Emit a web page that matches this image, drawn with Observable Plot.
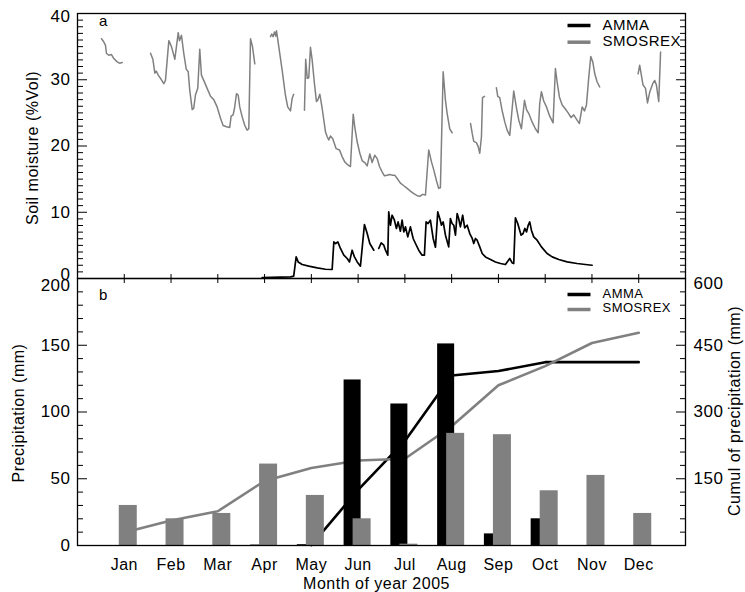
<!DOCTYPE html>
<html><head><meta charset="utf-8">
<script src="https://cdn.jsdelivr.net/npm/d3@7"></script>
<script src="https://cdn.jsdelivr.net/npm/@observablehq/plot@0.6"></script>
<style>
body{margin:0;background:#fff;}
#chart{position:relative;width:745px;height:592px;overflow:hidden;background:#fff;}
#chart svg{position:absolute;left:0;}
#chart text{letter-spacing:0.5px;}
</style></head><body><div id="chart"></div>
<script>
// ---------- Panel b: monthly data ----------
const months = ["Jan","Feb","Mar","Apr","May","Jun","Jul","Aug","Sep","Oct","Nov","Dec"];
const monthIndex = [1,2,3,4,5,6,7,8,9,10,11,12];
const ammaMonthly    = [0, 0, 0, 0.3, 0.6, 124, 106, 151, 8.7, 20, 0, 0];
const smosrexMonthly = [30, 20, 24, 61, 37.5, 20, 1, 84, 83, 41, 52.5, 24];
const ammaCumul    = [null, null, null, null, 1, 125, 235, 382, 392, 412, 412, 412];
const smosrexCumul = [29, 56, 77, 145, 174, 191, 195, 268, 360, 403, 455, 478];
const precipMajor = [0, 50, 100, 150, 200];
const precipMinor = [10,20,30,40,60,70,80,90,110,120,130,140,160,170,180,190];
const cumulFactor = 3; // 600 mm cumul <-> 200 mm monthly

// ---------- Panel a: daily soil moisture (day of year, %Vol); null = gap ----------
const smosrexDay = [1.4,2.9,4.0,4.6,6.1,7.9,9.4,11.6,13.1,14.9,null,
33.3,34.8,36.1,37.0,38.3,39.8,41.9,43.0,45.2,46.9,49.1,51.3,52.1,53.4,54.9,56.5,57.8,58.8,60.4,61.4,62.5,64.0,65.3,66.4,67.9,70.1,72.3,74.4,76.6,78.8,80.5,82.7,84.8,85.7,87.0,87.9,89.2,90.3,91.3,92.9,94.6,96.1,97.2,98.3,99.6,101.1,null,
111.3,112.1,113.0,113.9,114.7,115.2,116.7,118.9,121.0,122.5,124.3,125.4,126.4,null,
133.4,134.2,135.2,136.2,137.3,138.4,139.9,141.2,142.0,143.4,144.9,147.1,148.2,149.2,150.3,151.8,154.0,156.2,157.9,159.6,161.8,163.3,165.1,166.1,167.7,169.4,170.9,172.6,174.2,175.9,177.4,179.1,180.7,182.2,183.9,185.4,187.2,188.9,190.4,192.1,193.7,195.8,198.0,200.2,202.3,204.5,206.7,208.4,210.3,212.1,214.2,216.0,217.5,219.2,220.7,221.8,223.6,225.1,226.2,227.9,229.4,null,
241.4,242.5,243.5,245.2,246.4,247.4,248.5,249.2,250.5,null,
258.2,259.1,260.4,261.9,263.7,265.2,266.9,269.5,271.3,272.8,274.5,276.5,277.8,279.3,281.5,283.6,285.4,286.4,287.5,289.0,290.8,292.9,295.1,296.6,297.7,299.2,301.0,302.7,304.9,306.8,308.5,310.7,312.2,314.0,315.5,316.8,318.3,319.6,320.9,322.2,323.7,325.4,null,
350.4,351.4,352.5,353.6,355.2,356.5,358.0,359.9,361.2,362.3,363.8,365.0];
const smosrexSM = [36.2,35.7,35.2,34.0,33.7,33.8,33.2,32.7,32.5,32.6,null,
34.0,33.1,31.0,31.3,30.7,30.2,29.4,29.9,35.9,35.0,33.1,37.1,35.9,36.7,34.0,31.6,31.2,28.4,25.5,25.7,27.7,28.7,34.6,30.7,29.9,28.7,27.5,27.0,25.9,24.2,23.1,22.9,22.8,24.5,24.7,25.7,27.9,27.7,25.9,24.4,23.1,22.4,22.6,36.2,35.0,32.4,null,
36.5,36.9,36.5,37.2,36.6,37.4,35.0,31.4,27.7,25.9,25.3,27.2,27.8,null,
25.4,33.1,30.2,30.3,34.9,33.0,29.4,26.7,26.9,27.8,25.7,22.1,21.4,20.9,21.5,21.1,19.6,19.4,18.4,17.6,17.1,16.9,24.8,22.9,20.6,18.9,17.8,17.5,17.0,18.8,17.5,18.6,18.1,16.9,16.1,15.5,15.6,15.7,15.6,15.6,15.1,14.4,14.0,13.6,13.2,12.8,12.5,12.4,12.7,12.6,19.4,17.6,16.4,14.8,13.6,13.7,31.2,26.9,24.9,22.6,22.0,null,
23.4,21.9,20.7,20.5,19.9,18.9,21.4,27.3,27.5,null,
28.8,27.5,27.3,25.4,23.6,22.4,21.6,28.3,25.7,23.9,22.6,26.9,25.5,24.9,23.6,22.6,22.0,26.4,28.2,26.8,25.9,24.5,23.5,31.7,29.7,27.4,26.2,25.7,25.0,24.3,24.7,23.9,23.4,25.9,25.3,26.2,30.4,33.5,32.7,30.9,29.7,28.9,null,
30.9,32.2,30.7,29.2,28.7,26.5,28.2,29.4,29.9,29.2,26.7,34.2];

const ammaDay = [105.9,117.8,124.3,126.4,128.0,129.3,131.9,136.2,141.7,147.1,151.4,152.5,153.6,155.1,156.8,159.0,161.2,162.7,164.4,165.9,167.7,169.8,172.4,174.2,175.9,178.5,null,
181.7,183.3,185.0,186.1,187.6,188.2,189.3,190.4,191.9,193.2,
194.3,195.8,196.9,198.0,199.1,200.6,202.3,204.1,205.6,207.7,
209.9,211.4,212.5,213.8,215.3,217.1,218.6,220.1,221.4,222.5,
223.6,225.1,227.2,228.3,229.4,230.5,231.6,232.7,233.7,234.8,
236.3,237.6,239.2,240.9,242.5,243.5,244.6,245.7,247.4,249.0,
251.1,254.4,257.6,260.9,264.1,265.6,266.9,268.5,269.5,270.6,
272.1,274.3,275.6,276.7,277.8,278.9,279.9,281.0,282.5,284.7,
287.5,291.2,294.5,298.8,304.2,310.7,316.1,320.5];
const ammaSM = [0.15,0.2,0.24,0.35,3.26,2.5,2.11,1.86,1.6,1.4,1.36,5.52,5.28,5.52,4.53,3.52,3.02,2.5,4.27,3.26,2.5,1.86,8.15,6.79,5.28,4.27,null,
4.53,5.37,5.03,4.27,3.52,10.05,8.04,9.55,8.80,7.55,
8.54,7.14,8.80,7.03,7.79,6.28,7.79,6.04,5.28,4.27,
3.52,3.52,8.54,8.30,8.8,6.04,4.72,10.05,9.06,8.04,
8.54,6.54,4.77,9.06,8.30,8.04,6.54,9.81,9.06,7.79,
9.55,7.64,8.04,6.79,6.04,5.28,6.04,5.78,4.77,3.77,
3.26,2.87,2.5,2.26,2.11,2.61,3.02,2.35,2.26,9.15,
8.30,6.54,6.79,7.55,7.03,8.04,8.54,7.29,6.28,5.78,
4.77,3.77,3.26,2.87,2.5,2.26,2.11,2.0];
const smMajor = [0, 10, 20, 30, 40];
const smMinor = d3.range(1, 40).filter(v => v % 10 !== 0);

// ---------- helpers ----------
const FONT = "'Liberation Sans', Arial, sans-serif";
const GRAY = "#808080";
const toMonth = d => d == null ? NaN : 0.5 + (d - 1) * 12 / 365; // day of year -> month axis units
const smData = smosrexDay.map((d, i) => ({x: toMonth(d), y: smosrexSM[i] == null ? NaN : smosrexSM[i]}));
const amData = ammaDay.map((d, i) => ({x: toMonth(d), y: ammaSM[i] == null ? NaN : ammaSM[i]}));
const monthly = monthIndex.map((m, i) => ({m, amma: ammaMonthly[i], smosrex: smosrexMonthly[i],
  ammaC: ammaCumul[i] == null ? NaN : ammaCumul[i], smosrexC: smosrexCumul[i]}));
const lineShape = {draw(ctx, l) { ctx.moveTo(0, 0); ctx.lineTo(0, -l); }};
const baseStyle = {background: "transparent", overflow: "visible", fontFamily: FONT, color: "#000"};

function legend(dyA, dyS, dyTA, dyTS, fs) {
  return [
    Plot.vector([0], {frameAnchor: "top-right", dx: -118, dy: dyA, length: 23, rotate: 90, anchor: "start", shape: lineShape, stroke: "#000", strokeWidth: 3.5, strokeLinecap: "butt"}),
    Plot.vector([0], {frameAnchor: "top-right", dx: -118, dy: dyS, length: 23, rotate: 90, anchor: "start", shape: lineShape, stroke: GRAY, strokeWidth: 3.5, strokeLinecap: "butt"}),
    Plot.text(["AMMA"], {frameAnchor: "top-right", textAnchor: "start", lineAnchor: "middle", dx: -83, dy: dyTA, fontSize: fs}),
    Plot.text(["SMOSREX"], {frameAnchor: "top-right", textAnchor: "start", lineAnchor: "middle", dx: -83, dy: dyTS, fontSize: fs})
  ];
}

// ---------- Panel a ----------
const topPlot = Plot.plot({
  width: 745, height: 278, marginTop: 13, marginBottom: 0, marginLeft: 77, marginRight: 60,
  style: baseStyle,
  x: {domain: [0, 13], axis: null},
  y: {domain: [0, 40], axis: null},
  marks: [
    Plot.line(smData, {x: "x", y: "y", stroke: GRAY, strokeWidth: 1.5}),
    Plot.line(amData, {x: "x", y: "y", stroke: "#000", strokeWidth: 1.7}),
    Plot.axisY({anchor: "left", ticks: smMinor, tickSize: -6, fill: "none", label: null}),
    Plot.axisY({anchor: "left", ticks: smMajor, tickSize: -10, fill: "none", label: null}),
    Plot.axisY({anchor: "right", ticks: smMinor, tickSize: -6, fill: "none", label: null}),
    Plot.axisY({anchor: "right", ticks: smMajor, tickSize: -10, fill: "none", label: null}),
    Plot.axisY({anchor: "left", ticks: smMajor.slice(1, 4), tickSize: 0, tickPadding: 7, fontSize: 17, label: null}),
    Plot.axisY({anchor: "left", ticks: smMajor.slice(4), tickSize: 0, tickPadding: 7, dy: 3, fontSize: 17, label: null}),
    Plot.axisY({anchor: "left", ticks: smMajor.slice(0, 1), tickSize: 0, tickPadding: 7, dy: -4, fontSize: 17, label: null}),
    Plot.axisX({anchor: "bottom", ticks: monthIndex, tickSize: -4, fill: "none", label: null}),
    Plot.frame({stroke: "#000", strokeWidth: 1.3}),
    Plot.text(["Soil moisture (%Vol)"], {frameAnchor: "left", textAnchor: "middle", lineAnchor: "middle", rotate: -90, dx: -45, dy: 2, fontSize: 16}),
    Plot.text(["a"], {frameAnchor: "top-left", textAnchor: "middle", lineAnchor: "middle", dx: 26, dy: 8, fontSize: 15}),
    ...legend(12, 28.7, 11.5, 28, 15)
  ]
});

// ---------- Panel b ----------
const botPlot = Plot.plot({
  width: 745, height: 314, marginTop: 0, marginBottom: 47, marginLeft: 77, marginRight: 60,
  style: baseStyle,
  x: {domain: [0, 13], axis: null},
  y: {domain: [0, 200], axis: null},
  marks: [
    Plot.line(monthly, {x: "m", y: d => d.ammaC / cumulFactor, stroke: "#000", strokeWidth: 2.6}),
    Plot.line(monthly, {x: "m", y: d => d.smosrexC / cumulFactor, stroke: GRAY, strokeWidth: 2.6}),
    Plot.rectY(monthly, {x1: d => d.m - 0.30, x2: d => d.m + 0.064, y: "amma", fill: "#000"}),
    Plot.rectY(monthly, {x1: d => d.m - 0.107, x2: d => d.m + 0.278, y: "smosrex", fill: GRAY}),
    Plot.axisY({anchor: "left", ticks: precipMinor, tickSize: -6, fill: "none", label: null}),
    Plot.axisY({anchor: "left", ticks: precipMajor, tickSize: -10, fill: "none", label: null}),
    Plot.axisY({anchor: "right", ticks: precipMinor, tickSize: -6, fill: "none", label: null}),
    Plot.axisY({anchor: "right", ticks: precipMajor, tickSize: -10, fill: "none", label: null}),
    Plot.axisY({anchor: "left", ticks: precipMajor.slice(0, 4), tickSize: 0, tickPadding: 7, fontSize: 17, label: null}),
    Plot.axisY({anchor: "left", ticks: precipMajor.slice(4), tickSize: 0, tickPadding: 7, dy: 7, fontSize: 17, label: null}),
    Plot.axisY({anchor: "right", ticks: precipMajor.slice(1, 4), tickFormat: d => d * cumulFactor, tickSize: 0, tickPadding: 8, fontSize: 17, label: null}),
    Plot.axisY({anchor: "right", ticks: precipMajor.slice(4), tickFormat: d => d * cumulFactor, tickSize: 0, tickPadding: 8, dy: 5, fontSize: 17, label: null}),
    Plot.axisX({anchor: "top", ticks: monthIndex, tickSize: -4, fill: "none", label: null}),
    Plot.axisX({anchor: "bottom", ticks: monthIndex, tickFormat: i => months[i - 1], tickSize: 0, tickPadding: 13, fontSize: 16, label: null}),
    Plot.frame({stroke: "#000", strokeWidth: 1.3}),
    Plot.text(["Precipitation (mm)"], {frameAnchor: "left", textAnchor: "middle", lineAnchor: "middle", rotate: -90, dx: -59, dy: 1, fontSize: 16}),
    Plot.text(["Cumul of precipitation (mm)"], {frameAnchor: "right", textAnchor: "middle", lineAnchor: "middle", rotate: -90, dx: 49, dy: -1, fontSize: 16}),
    Plot.text(["Month of year 2005"], {frameAnchor: "bottom", textAnchor: "middle", lineAnchor: "middle", dx: -5, dy: 38, fontSize: 16}),
    Plot.text(["b"], {frameAnchor: "top-left", textAnchor: "middle", lineAnchor: "middle", dx: 26, dy: 17, fontSize: 15}),
    ...legend(16, 31, 15.5, 29.5, 13)
  ]
});

const chart = document.getElementById("chart");
topPlot.style.top = "0px";
botPlot.style.top = "278px";
chart.appendChild(topPlot);
chart.appendChild(botPlot);
</script></body></html>
